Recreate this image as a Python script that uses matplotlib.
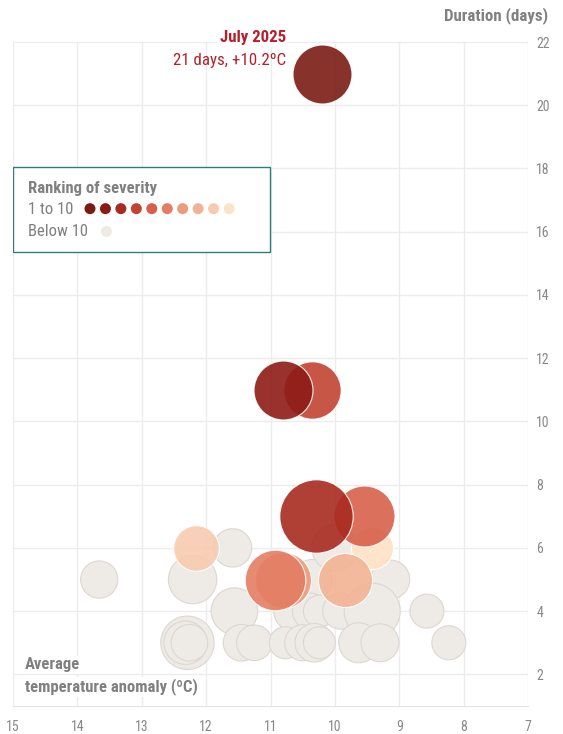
import matplotlib.pyplot as plt
from matplotlib.patches import Rectangle

plt.rcParams['font.family'] = ['Roboto Condensed', 'Liberation Sans Narrow', 'Roboto', 'DejaVu Sans']

# top 10 heatwaves: anomaly (ºC), duration (days), rank, bubble magnitude
top_anomaly = [10.2, 10.8, 10.3, 10.35, 9.55, 10.93, 10.8, 9.84, 12.16, 9.42]
top_duration = [21, 11, 7, 11, 7, 5, 5, 5, 6, 6]
top_rank = [1, 2, 3, 4, 5, 6, 7, 8, 9, 10]
top_magnitude = [29.5, 29.5, 36.7, 28.7, 30.5, 30.3, 28.0, 27.0, 22.8, 21.0]

# the rest
other_anomaly = [13.66, 12.21, 10.35, 9.14,
                 11.59, 10.0,
                 11.56, 10.64, 10.38, 10.24, 9.91, 9.42, 8.57,
                 12.29, 12.32, 12.26, 11.45, 11.25, 10.77, 10.5, 10.32, 10.24, 9.63, 9.3, 8.23]
other_duration = [5, 5, 5, 5,
                  6, 6,
                  4, 4, 4, 4, 4, 4, 4,
                  3, 3, 3, 3, 3, 3, 3, 3, 3, 3, 3, 3]
other_magnitude = [18.6, 24.2, 20.0, 19.5,
                   19.2, 23.0,
                   23.3, 20.0, 18.0, 16.0, 18.0, 28.0, 17.0,
                   26.7, 21.7, 18.3, 18.3, 17.8, 16.0, 18.0, 19.3, 16.0, 20.0, 19.0, 17.0]

rank_colors = ['#7a1b13', '#8e1a15', '#a82a20', '#c24433', '#d8604a',
               '#e47d62', '#ec9a7c', '#f2b394', '#f8cbaf', '#fde2c6']
gray = '#eeeae5'

x_ticks = list(range(7, 16))
y_ticks = list(range(2, 23, 2))


def area(r):
    # radius in px -> marker area in pt^2 (dpi 100)
    return (2 * r * 0.72) ** 2


fig = plt.figure(figsize=(5.63, 7.34), dpi=100)
ax = fig.add_axes([13 / 563, 1 - 706 / 734, 515 / 563, 664 / 734])

ax.scatter(other_anomaly, other_duration, s=[area(r) for r in other_magnitude],
           color=gray, edgecolor='#dcd7d2', linewidth=0.8, zorder=2)

order = sorted(range(len(top_rank)), key=lambda i: -top_rank[i])
for i in order:
    ax.scatter(top_anomaly[i], top_duration[i], s=area(top_magnitude[i]),
               color=rank_colors[top_rank[i] - 1], alpha=0.9,
               edgecolor='white', linewidth=0.8, zorder=3)

ax.set_xlim(15, 7)
ax.set_ylim(1, 22)
ax.set_xticks(x_ticks)
ax.set_yticks(y_ticks)
ax.yaxis.tick_right()
ax.tick_params(axis='both', length=0, colors='#888888', labelsize=10)
ax.tick_params(axis='x', pad=10)
ax.tick_params(axis='y', pad=6)
ax.grid(True, color='#ececec', linewidth=1, zorder=0)
ax.set_axisbelow(True)
for side in ['top', 'left', 'right']:
    ax.spines[side].set_visible(False)
ax.spines['bottom'].set_color('#e4e4e4')

fig.text(548 / 563, 1 - 16 / 734, 'Duration (days)', ha='right', va='center',
         fontsize=12.2, fontweight='bold', color='#808080')

ax.text(10.76, 22.13, 'July 2025', ha='right', va='center', fontsize=12.2,
        fontweight='bold', color='#b5202a', zorder=5, clip_on=False,
        bbox=dict(facecolor='white', edgecolor='none', pad=1))
ax.text(10.76, 21.43, '21 days, +10.2ºC', ha='right', va='center', fontsize=12.2,
        color='#b5202a', zorder=5)

ax.text(0.023, 1 - (665 - 42) / 664, 'Average', transform=ax.transAxes,
        ha='left', va='center', fontsize=12, fontweight='bold', color='#808080',
        zorder=5, bbox=dict(facecolor='white', edgecolor='none', pad=1))
ax.text(0.023, 1 - (687 - 42) / 664, 'temperature anomaly (ºC)', transform=ax.transAxes,
        ha='left', va='center', fontsize=12, fontweight='bold', color='#808080',
        zorder=5, bbox=dict(facecolor='white', edgecolor='none', pad=1))

# legend box
ax.add_patch(Rectangle((0, 0.684), 0.499, 0.128, transform=ax.transAxes,
                       facecolor='white', edgecolor='#2e7d7b', linewidth=1, zorder=6))
ax.text(0.029, 0.779, 'Ranking of severity', transform=ax.transAxes, ha='left',
        va='center', fontsize=12, fontweight='bold', color='#808080', zorder=7)
ax.text(0.029, 0.747, '1 to 10', transform=ax.transAxes, ha='left',
        va='center', fontsize=12, color='#808080', zorder=7)
ax.text(0.029, 0.714, 'Below 10', transform=ax.transAxes, ha='left',
        va='center', fontsize=12, color='#808080', zorder=7)
dot_x = [0.1495 + k * 0.03 for k in range(10)]
ax.scatter(dot_x, [0.749] * 10, s=area(5.5), color=rank_colors,
           transform=ax.transAxes, clip_on=False, zorder=7, linewidth=0)
ax.scatter([0.1806], [0.716], s=area(5.5), color=gray,
           transform=ax.transAxes, clip_on=False, zorder=7, linewidth=0)

fig.savefig('out.png', dpi=100)
